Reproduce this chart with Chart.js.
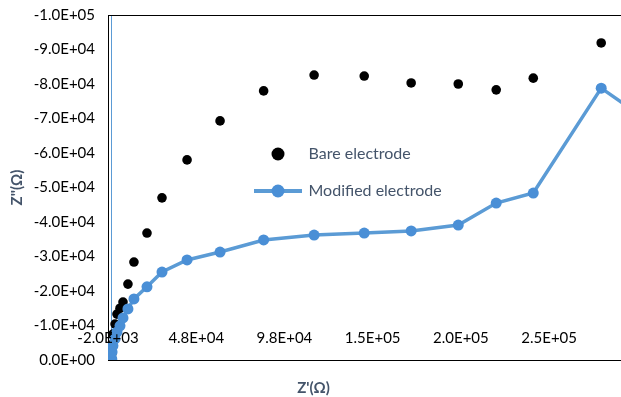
<!DOCTYPE html>
<html>
<head>
<meta charset="utf-8">
<script src="https://cdn.jsdelivr.net/npm/chart.js@4.4.1/dist/chart.umd.min.js"></script>
<style>
  html, body { margin: 0; padding: 0; background: #fff; overflow: hidden; }
  #chart-container { position: relative; width: 621px; height: 397px; overflow: hidden; }
</style>
</head>
<body>
<div id="chart-container"><canvas id="nyquist-chart" width="627" height="397"></canvas></div>
<script>
// Z' values (shared by both series)
const zReal = [150, 300, 800, 2000, 3100, 4800, 6500, 9300, 12700, 20100, 28600, 42800,
  61500, 86200, 114800, 143200, 169800, 196500, 218000, 239000, 277500, 330000];
const bareImag = [-1800, -4500, -7500, -10400, -13300, -15000, -16800, -22000, -28400, -36800, -47000, -58000,
  -69300, -78000, -82600, -82300, -80300, -80000, -78300, -81700, -91900, -95000];
const modifiedImag = [-300, -2300, -4100, -6100, -8100, -9900, -12200, -14800, -17700, -21200, -25500, -29000,
  -31300, -34800, -36200, -36800, -37400, -39100, -45500, -48400, -78800, -60000];
const seriesNames = ['Bare electrode', 'Modified electrode'];
const xTickValues = [-2000, 0, 48000, 98000, 148000, 198000, 248000];
const xRange = [-2000, 289000];
const yRange = [-100000, 0];

Chart.defaults.font.family = 'Lato';
Chart.defaults.font.size = 15;
Chart.defaults.color = '#000';

// 1.5e+5 -> 1.5E+05
function sciLabel(v) {
  return v.toExponential(1).toUpperCase().replace(/E([+-])(\d+)$/, (m, sg, d) => 'E' + sg + d.padStart(2, '0'));
}

// the plot area edges are fixed, so no scale may ask for extra room
function noPadding(scale) {
  scale.paddingLeft = 0;
  scale.paddingRight = 0;
  scale.paddingTop = 0;
  scale.paddingBottom = 0;
}

function legendIcon(width, dotColor, lineColor) {
  const c = document.createElement('canvas');
  c.width = width;
  c.height = 16;
  const g = c.getContext('2d');
  if (lineColor) {
    g.strokeStyle = lineColor;
    g.lineWidth = 4;
    g.beginPath();
    g.moveTo(0, 8);
    g.lineTo(width, 8);
    g.stroke();
  }
  g.fillStyle = dotColor;
  g.beginPath();
  g.arc(width / 2, 8, 6.5, 0, Math.PI * 2);
  g.fill();
  return c;
}
const legendIcons = [legendIcon(16, '#000'), legendIcon(48, '#4a8fd6', '#5b9bd5')];

// legend sits inside the plot, like the Excel one
const legendPlacer = {
  id: 'legendPlacer',
  afterLayout(chart) {
    const lg = chart.legend;
    const ca = chart.chartArea;
    lg.left = ca.left + 126.5;
    lg.top = ca.top + 110;
    lg.right = lg.left + lg.width;
    lg.bottom = lg.top + lg.height;
  }
};

const ctx = document.getElementById('nyquist-chart');
const chart = new Chart(ctx, {
  type: 'scatter',
  data: {
    datasets: [{
      label: seriesNames[0],
      data: zReal.map((x, i) => ({ x: x, y: bareImag[i] })),
      showLine: false,
      pointRadius: 4.8,
      pointHoverRadius: 4.8,
      pointBackgroundColor: '#000',
      pointBorderWidth: 0,
      order: 2
    }, {
      label: seriesNames[1],
      data: zReal.map((x, i) => ({ x: x, y: modifiedImag[i] })),
      showLine: true,
      borderColor: '#5b9bd5',
      borderWidth: 3.5,
      pointRadius: 5.5,
      pointHoverRadius: 5.5,
      pointBackgroundColor: '#4a8fd6',
      pointBorderWidth: 0,
      order: 1
    }]
  },
  options: {
    responsive: false,
    animation: false,
    layout: { padding: { top: 15, right: 0, bottom: 0, left: 0 } },
    scales: {
      x: {
        type: 'linear',
        min: xRange[0],
        max: xRange[1],
        afterBuildTicks: scale => { scale.ticks = xTickValues.map(v => ({ value: v })); },
        afterFit: scale => { scale.height = 13; noPadding(scale); },
        grid: {
          drawTicks: false,
          color: c => (c.tick && c.tick.value === 0) ? '#5b9bd5' : 'rgba(0,0,0,0)'
        },
        border: { color: '#000', width: 1 },
        ticks: {
          mirror: true,
          padding: 13,
          z: 1,
          maxRotation: 0,
          autoSkip: false,
          callback: v => v === 0 ? '' : sciLabel(v)
        }
      },
      xTop: {
        type: 'linear',
        position: 'top',
        min: xRange[0],
        max: xRange[1],
        afterFit: scale => { scale.height = 0; noPadding(scale); },
        grid: { display: false, drawTicks: false },
        ticks: { display: false },
        border: { color: '#000', width: 1 }
      },
      y: {
        type: 'linear',
        reverse: true,
        min: yRange[0],
        max: yRange[1],
        afterFit: scale => { scale.width = 108; noPadding(scale); },
        grid: { display: false, drawTicks: false },
        border: { color: '#000', width: 1 },
        ticks: {
          stepSize: 10000,
          padding: 13,
          callback: v => sciLabel(v)
        },
        title: {
          display: true,
          text: "Z''(Ω)",
          color: '#44546a',
          font: { size: 15, weight: 'bold' },
          padding: { top: 8, bottom: 0 }
        }
      }
    },
    plugins: {
      legend: {
        position: 'chartArea',
        align: 'start',
        labels: {
          usePointStyle: true,
          pointStyleWidth: 45,
          padding: 21,
          color: '#44546a',
          font: { size: 16 },
          generateLabels: c => {
            const items = Chart.defaults.plugins.legend.labels.generateLabels(c);
            items.forEach(item => { item.pointStyle = legendIcons[item.datasetIndex]; });
            return items;
          },
          sort: (a, b) => a.datasetIndex - b.datasetIndex
        }
      },
      title: {
        display: true,
        position: 'bottom',
        text: "Z'(Ω)",
        color: '#44546a',
        font: { size: 15, weight: 'bold' },
        padding: { top: 6, bottom: 0 }
      },
      tooltip: { enabled: false }
    }
  },
  plugins: [legendPlacer]
});
</script>
</body>
</html>
